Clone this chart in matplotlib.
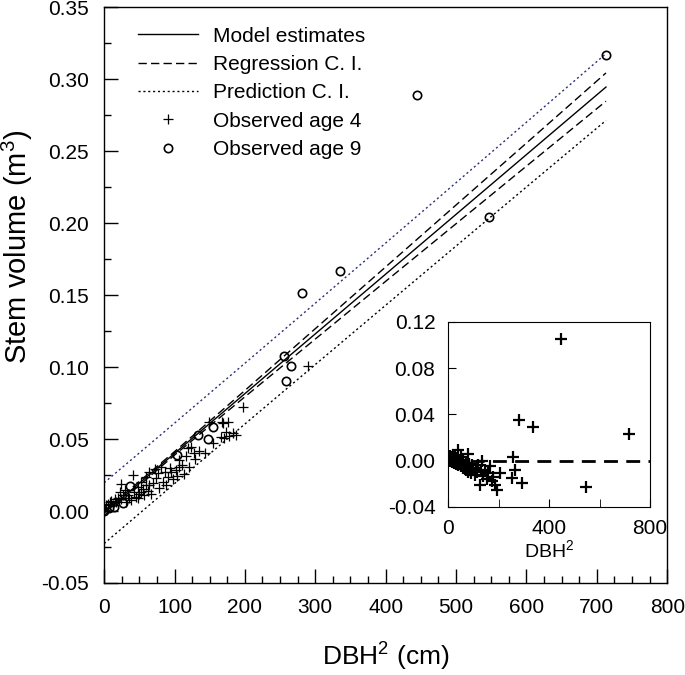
import numpy as np
import matplotlib
matplotlib.use("Agg")
import matplotlib.pyplot as plt
from matplotlib.ticker import MultipleLocator, FixedLocator

plt.rcParams['font.family'] = ['Liberation Sans', 'DejaVu Sans']
plt.rcParams['mathtext.fontset'] = 'custom'
plt.rcParams['mathtext.rm'] = 'Liberation Sans'

# ---- fitted lines ----
line_x = [0, 100, 200, 300, 400, 500, 600, 713]
model_y = [-0.0015, 0.0400, 0.0815, 0.1230, 0.1645, 0.2060, 0.2475, 0.2944]
reg_up = [-0.0002, 0.0412, 0.0837, 0.1266, 0.1695, 0.2125, 0.2555, 0.3042]
reg_lo = [-0.0032, 0.0388, 0.0793, 0.1194, 0.1595, 0.1995, 0.2395, 0.2846]
pred_up = [0.0196, 0.0610, 0.1026, 0.1443, 0.1861, 0.2280, 0.2700, 0.3176]
pred_lo = [-0.0226, 0.0190, 0.0604, 0.1017, 0.1429, 0.1840, 0.2250, 0.2712]

# ---- observed age 4 ----
age4_x = [2, 5, 8, 10, 12, 15, 17, 20, 22, 24, 24, 27, 29, 31, 34, 36, 38, 41, 43, 45,
          48, 48, 50, 53, 53, 55, 57, 60, 60, 62, 64, 64, 66, 69, 72, 74, 76, 78, 81, 83,
          86, 88, 91, 93, 95, 98, 102, 104, 107, 107, 110, 113, 116, 119, 121, 124, 128, 129,
          135, 143, 149, 155, 166, 168, 169, 171, 173, 176, 178, 183, 187, 197, 290]
age4_y = [0.004, 0.005, 0.006, 0.007, 0.004, 0.008, 0.0065, 0.009, 0.0134, 0.0083, 0.0185,
          0.011, 0.0146, 0.0065, 0.011, 0.009, 0.0076, 0.025, 0.0134, 0.010, 0.0169, 0.0088,
          0.012, 0.0204, 0.0134, 0.015, 0.0111, 0.0238, 0.018, 0.014, 0.0273, 0.018, 0.012,
          0.0192, 0.0292, 0.0227, 0.0262, 0.016, 0.0308, 0.020, 0.0273, 0.018, 0.0238, 0.030,
          0.0273, 0.022, 0.0285, 0.024, 0.0354, 0.0308, 0.032, 0.026, 0.038, 0.0435, 0.0308,
          0.0447, 0.040, 0.036, 0.042, 0.040, 0.062, 0.047, 0.0516, 0.062, 0.0613, 0.0505,
          0.055, 0.062, 0.052, 0.054, 0.0528, 0.072, 0.1007]

# ---- observed age 9 ----
age9_x = [0, 7, 14, 27, 37, 104, 133, 147, 155, 256, 265, 258, 281, 335, 445, 547, 713]
age9_y = [0.000, 0.002, 0.003, 0.0058, 0.0175, 0.039, 0.0528, 0.050, 0.0585, 0.1076,
          0.1007, 0.0903, 0.1514, 0.1667, 0.289, 0.204, 0.317]

# ---- inset residuals ----
res_x = [0, 2, 3, 5, 6, 8, 10, 12, 14, 16, 18, 20, 22, 25, 27, 30, 32, 35, 38, 40, 41, 44,
         47, 50, 52, 55, 58, 60, 63, 66, 70, 72, 75, 78, 81, 84, 88, 92, 95, 100, 105, 110,
         115, 120, 127, 130, 133, 140, 147, 155, 160, 166, 173, 180, 186, 193, 206, 255, 259,
         267, 281, 293, 337, 448, 548, 716]
res_y = [0.004, 0.002, 0.000, 0.003, 0.001, 0.004, 0.002, 0.000, 0.003, -0.001, 0.002,
         0.005, 0.000, -0.002, 0.003, 0.001, -0.003, 0.002, -0.001, -0.004, 0.009, 0.001,
         -0.003, -0.005, 0.003, -0.002, -0.006, 0.000, -0.004, -0.007, -0.002, -0.008,
         -0.005, -0.010, 0.006, -0.003, -0.007, -0.011, -0.004, -0.008, -0.012, -0.006,
         -0.010, -0.004, -0.021, -0.009, 0.000, -0.013, -0.008, -0.016, -0.011, -0.005,
         -0.018, -0.014, -0.021, -0.025, -0.011, -0.015, 0.003, -0.008, 0.035, -0.019,
         0.029, 0.105, -0.023, 0.023]

fig = plt.figure(figsize=(6.85, 6.75), dpi=100)
ax = fig.add_axes([0.152, 0.1363, 0.822, 0.8533])

ax.plot(line_x, model_y, color='black', lw=1.0, ls='-', label='Model estimates')
ax.plot(line_x, reg_up, color='black', lw=1.0, ls=(0, (6, 3)), label='Regression C. I.')
ax.plot(line_x, reg_lo, color='black', lw=1.0, ls=(0, (6, 3)))
ax.plot(line_x, pred_lo, color='black', lw=1.0, ls=(0, (1.5, 2)), label='Prediction C. I.')
ax.plot(line_x, pred_up, color='#2e2e7a', lw=1.0, ls=(0, (1.5, 2)))
ax.plot(age4_x, age4_y, ls='none', marker='+', ms=7.5, mew=0.9, color='black',
        label='Observed age 4')
ax.plot(age9_x, age9_y, ls='none', marker='o', ms=6, mew=1.2, mfc='none', mec='black',
        label='Observed age 9')

ax.set_xlim(0, 800)
ax.set_ylim(-0.05, 0.35)
ax.xaxis.set_major_locator(MultipleLocator(100))
ax.xaxis.set_minor_locator(MultipleLocator(25))
ax.yaxis.set_major_locator(MultipleLocator(0.05))
ax.yaxis.set_minor_locator(MultipleLocator(0.025))
ax.yaxis.set_major_formatter(matplotlib.ticker.FormatStrFormatter('%.2f'))
ax.tick_params(which='both', direction='in', top=False, right=False, labelsize=15, width=1.0)
ax.tick_params(which='major', length=10, pad=11)
ax.tick_params(which='minor', length=5)
for s in ax.spines.values():
    s.set_linewidth(1.0)

ax.set_xlabel('DBH$^2$ (cm)', fontsize=19, labelpad=16)
ax.set_ylabel('Stem volume (m$^3$)', fontsize=21)
ax.yaxis.set_label_coords(-0.123, 0.583)

leg = ax.legend(loc='upper left', bbox_to_anchor=(0.06, 0.966), frameon=False,
                fontsize=15, handlelength=2.9, handletextpad=0.7, labelspacing=0.45,
                borderpad=0, borderaxespad=0)

# ---- inset ----
ins = fig.add_axes([0.654, 0.249, 0.295, 0.274])
ins.plot(res_x, res_y, ls='none', marker='+', ms=8, mew=1.6, color='black')
ins.plot([0, 800], [0, 0], color='black', lw=2.0, ls=(0, (5, 3)))
ins.set_xlim(0, 800)
ins.set_ylim(-0.04, 0.12)
ins.xaxis.set_major_locator(FixedLocator([0, 400, 800]))
ins.xaxis.set_minor_locator(FixedLocator([200, 600]))
ins.yaxis.set_major_locator(FixedLocator([-0.04, 0.0, 0.04, 0.08, 0.12]))
ins.yaxis.set_major_formatter(matplotlib.ticker.FormatStrFormatter('%.2f'))
ins.tick_params(which='both', direction='in', top=False, right=False, labelsize=15)
ins.tick_params(which='major', length=6, pad=9)
ins.tick_params(which='minor', length=6)
ins.set_xlabel('DBH$^2$', fontsize=14, labelpad=1)

fig.savefig('out.png', dpi=100)
